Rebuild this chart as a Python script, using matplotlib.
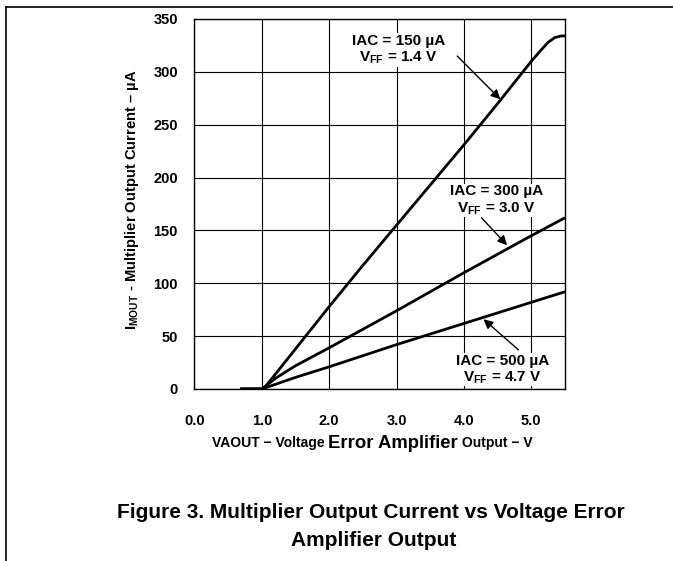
import numpy as np
import matplotlib.pyplot as plt
from matplotlib.lines import Line2D

plt.rcParams['font.family'] = ['Liberation Sans', 'DejaVu Sans']
plt.rcParams['font.weight'] = 'bold'
plt.rcParams['mathtext.fontset'] = 'custom'
plt.rcParams['mathtext.rm'] = 'Liberation Sans:bold'
plt.rcParams['mathtext.bf'] = 'Liberation Sans:bold'

# data (V, uA)
v_150 = [0.68, 1.0, 1.05, 1.1, 1.5, 2.0, 2.5, 3.0, 3.5, 4.0, 4.5, 5.0, 5.15, 5.25, 5.35, 5.45, 5.5]
i_150 = [0, 0, 2, 6, 38, 78, 117, 155, 193, 231, 270, 310, 321, 328, 332.5, 334, 334]
v_300 = [0.68, 1.0, 1.1, 1.2, 1.5, 2.0, 3.0, 4.0, 5.0, 5.5]
i_300 = [0, 0, 5, 10, 22, 39, 74, 110, 145, 162]
v_500 = [0.68, 1.0, 1.5, 2.0, 3.0, 4.0, 5.0, 5.5]
i_500 = [0, 0, 11, 21, 42, 62, 82, 92]

x_ticks = [0.0, 1.0, 2.0, 3.0, 4.0, 5.0]
y_ticks = [0, 50, 100, 150, 200, 250, 300, 350]

W, H = 673, 561
fig = plt.figure(figsize=(W / 100, H / 100), dpi=100)
ax = fig.add_axes([194.5 / W, (H - 389) / H, 370.5 / W, 370 / H])

for v, i in [(v_150, i_150), (v_300, i_300), (v_500, i_500)]:
    ax.plot(v, i, color='black', lw=2.0, solid_capstyle='butt', solid_joinstyle='round')

ax.set_xlim(0, 5.5)
ax.set_ylim(0, 350)
ax.set_xticks(x_ticks)
ax.set_yticks(y_ticks)
ax.set_xticklabels([f'{t:.1f}' for t in x_ticks], fontsize=10.5, fontweight='bold')
ax.set_yticklabels([str(t) for t in y_ticks], fontsize=10.5, fontweight='bold')
ax.tick_params(axis='both', length=0)
ax.tick_params(axis='x', pad=18)
ax.tick_params(axis='y', pad=12)
ax.grid(True, color='black', lw=0.8)
for s in ax.spines.values():
    s.set_linewidth(1.0)

# annotations
box = dict(facecolor='white', edgecolor='none', pad=0.5)
labels = [
    ('IAC = 150 µA', r'V$_{\mathbf{FF}}$ = 1.4 V', 3.03, 329, 313, (3.90, 315), (4.54, 274)),
    ('IAC = 300 µA', r'V$_{\mathbf{FF}}$ = 3.0 V', 4.48, 187, 171, (4.26, 162), (4.64, 136)),
    ('IAC = 500 µA', r'V$_{\mathbf{FF}}$ = 4.7 V', 4.57, 26.5, 11, (4.81, 37), (4.29, 66)),
]
for l1, l2, xc, y1, y2, start, end in labels:
    ax.text(xc, y1, l1, ha='center', va='center', fontsize=11, fontweight='bold', bbox=box, zorder=5)
    ax.text(xc, y2, l2, ha='center', va='center', fontsize=11, fontweight='bold', bbox=box, zorder=5)
    ax.annotate('', xy=end, xytext=start,
                arrowprops=dict(arrowstyle='-|>', color='black', lw=1.0, mutation_scale=14,
                                shrinkA=0, shrinkB=0), zorder=6)

# y label
fig.text(132 / W, 1 - 200 / H, r'I$_{\mathbf{MOUT}}$ - Multiplier Output Current – µA',
         rotation=90, ha='center', va='center', fontsize=10.6, fontweight='bold')

# x label with mixed sizes
r = fig.canvas.get_renderer()
x0 = 212 / W
yl = 1 - 443 / H
for txt, fs in [('VAOUT − Voltage ', 10), ('Error Amplifier', 13.3), (' Output − V', 10)]:
    t = fig.text(x0, yl, txt, ha='left', va='center', fontsize=fs, fontweight='bold')
    bb = t.get_window_extent(renderer=r)
    x0 += bb.width / W

# caption
fig.text(371 / W, 1 - 513 / H, 'Figure 3. Multiplier Output Current vs Voltage Error',
         ha='center', va='center', fontsize=15, fontweight='bold')
fig.text(374 / W, 1 - 540 / H, 'Amplifier Output',
         ha='center', va='center', fontsize=15, fontweight='bold')

# page frame lines
fig.add_artist(Line2D([6 / W, 6 / W], [0, 1 - 7 / H], transform=fig.transFigure, color='black', lw=1.2))
fig.add_artist(Line2D([6 / W, 1], [1 - 7 / H, 1 - 7 / H], transform=fig.transFigure, color='black', lw=1.2))

fig.savefig('out.png', dpi=100)
